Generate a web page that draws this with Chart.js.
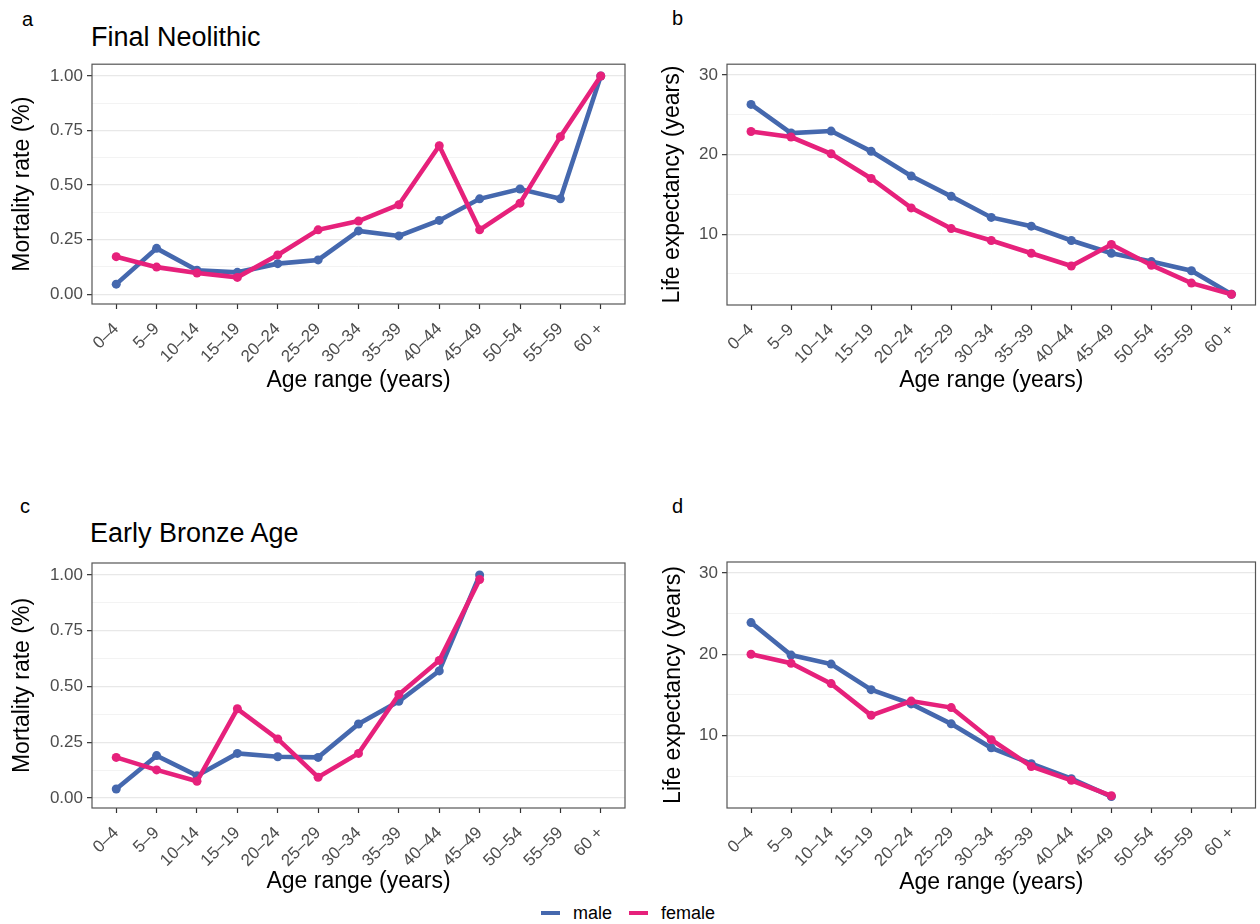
<!DOCTYPE html>
<html>
<head>
<meta charset="utf-8">
<title>Mortality and life expectancy</title>
<script src="https://cdn.jsdelivr.net/npm/chart.js@4.4.0/dist/chart.umd.min.js"></script>
<style>
  body { margin: 0; background: #fff; font-family: "Liberation Sans", Arial, sans-serif; }
  #page { position: relative; width: 1260px; height: 924px; overflow: hidden; background: #fff; }
  canvas { position: absolute; }
  .txt { position: absolute; white-space: nowrap; line-height: 1; color: #000; }
  .letter { font-size: 20px; }
  .ptitle { font-size: 27px; }
  #legend { position: absolute; left: 541px; top: 903px; font-size: 18px; line-height: 20px; z-index: 5; }
  #legend span.sw { display: inline-block; width: 19px; height: 4px; vertical-align: middle; margin-right: 13px; position: relative; top: -1px; }
  #legend span.item { margin-right: 12px; }
</style>
</head>
<body>
<div id="page">
  <div class="txt letter" style="left:22px; top:9px;">a</div>
  <div class="txt letter" style="left:672px; top:8px;">b</div>
  <div class="txt letter" style="left:20px; top:496px;">c</div>
  <div class="txt letter" style="left:672px; top:496px;">d</div>
  <div class="txt ptitle" style="left:91px; top:24px;">Final Neolithic</div>
  <div class="txt ptitle" style="left:90px; top:520px;">Early Bronze Age</div>

  <canvas id="chartA" width="640" height="360" style="left:0px; top:50px;"></canvas>
  <canvas id="chartB" width="630" height="360" style="left:630px; top:50px;"></canvas>
  <canvas id="chartC" width="640" height="360" style="left:0px; top:540px;"></canvas>
  <canvas id="chartD" width="630" height="360" style="left:630px; top:540px;"></canvas>

  <div id="legend">
    <span class="sw" style="background:#4568ae"></span><span class="item">male</span>
    <span class="sw" style="background:#e6217b"></span><span>female</span>
  </div>
</div>

<script>
// age classes on the x axis
const ageGroups = ['0–4', '5–9', '10–14', '15–19', '20–24', '25–29', '30–34',
  '35–39', '40–44', '45–49', '50–54', '55–59', '60 +'];

// a: Final Neolithic, mortality rate
const neoMortMale   = [0.046, 0.21, 0.11, 0.10, 0.14, 0.157, 0.29, 0.267, 0.338, 0.437, 0.482, 0.437, 1.00];
const neoMortFemale = [0.172, 0.124, 0.097, 0.077, 0.18, 0.295, 0.335, 0.41, 0.68, 0.295, 0.417, 0.722, 1.00];

// b: Final Neolithic, life expectancy
const neoLifeMale   = [26.3, 22.7, 22.95, 20.4, 17.3, 14.75, 12.1, 11.0, 9.2, 7.6, 6.55, 5.4, 2.45];
const neoLifeFemale = [22.9, 22.2, 20.1, 17.0, 13.3, 10.7, 9.2, 7.6, 6.0, 8.7, 6.1, 3.85, 2.45];

// c: Early Bronze Age, mortality rate
const ebaMortMale   = [0.04, 0.19, 0.10, 0.20, 0.185, 0.182, 0.332, 0.434, 0.57, 1.00, null, null, null];
const ebaMortFemale = [0.182, 0.126, 0.075, 0.40, 0.265, 0.093, 0.20, 0.464, 0.617, 0.98, null, null, null];

// d: Early Bronze Age, life expectancy
const ebaLifeMale   = [23.9, 19.9, 18.8, 15.65, 13.9, 11.45, 8.5, 6.55, 4.7, 2.5, null, null, null];
const ebaLifeFemale = [20.0, 18.9, 16.4, 12.5, 14.25, 13.45, 9.5, 6.2, 4.5, 2.6, null, null, null];

// y tick labels (major) and minor grid positions
const mortTicks = [0, 0.25, 0.5, 0.75, 1];
const mortMinor = [0.125, 0.375, 0.625, 0.875];
const lifeTicks = [10, 20, 30];
const lifeMinor = [5, 15, 25];

const BLUE = '#4568ae';
const PINK = '#e6217b';

Chart.defaults.font.family = '"Liberation Sans", Arial, sans-serif';
Chart.defaults.animation = false;

// ggplot-like panel frame
const panelBorder = {
  id: 'panelBorder',
  afterDraw(chart) {
    const { ctx, chartArea: a } = chart;
    ctx.save();
    ctx.strokeStyle = '#555555';
    ctx.lineWidth = 1.2;
    ctx.strokeRect(a.left, a.top, a.right - a.left, a.bottom - a.top);
    ctx.restore();
  }
};

function toPoints(vals) {
  return vals.map((v, i) => ({ x: i, y: v }));
}

function makePanel(id, male, female, cfg) {
  const major = cfg.major;
  const allTicks = major.concat(cfg.minor).sort((p, q) => p - q);
  const isMajor = v => major.some(m => Math.abs(m - v) < 1e-9);

  const ds = (label, vals, color, order) => ({
    label: label,
    data: toPoints(vals),
    borderColor: color,
    backgroundColor: color,
    borderWidth: 4.6,
    pointRadius: 4.5,
    pointBorderWidth: 0,
    pointHoverRadius: 4.5,
    tension: 0,
    spanGaps: false,
    order: order
  });

  new Chart(document.getElementById(id), {
    type: 'line',
    data: {
      datasets: [
        ds('male', male, BLUE, 1),
        ds('female', female, PINK, 0)
      ]
    },
    options: {
      responsive: false,
      layout: { padding: { left: 0, top: cfg.padTop, right: cfg.padRight, bottom: 0 } },
      plugins: { legend: { display: false }, tooltip: { enabled: false } },
      scales: {
        x: {
          type: 'linear',
          min: -0.6,
          max: 12.6,
          afterBuildTicks: s => { s.ticks = ageGroups.map((_, i) => ({ value: i })); },
          afterFit: s => { s.height = cfg.xHeight; },
          grid: { drawOnChartArea: false, tickLength: 5, tickColor: '#333333', tickWidth: 1.2 },
          border: { display: false },
          ticks: {
            autoSkip: false,
            minRotation: 45,
            maxRotation: 45,
            padding: 10,
            color: '#4d4d4d',
            font: { size: 17 },
            callback: v => ageGroups[v]
          },
          title: {
            display: true,
            text: 'Age range (years)',
            color: '#000',
            font: { size: 23 },
            padding: { top: 0, bottom: cfg.xTitlePad }
          }
        },
        y: {
          min: cfg.min,
          max: cfg.max,
          afterBuildTicks: s => { s.ticks = allTicks.map(v => ({ value: v })); },
          afterFit: s => { s.width = cfg.yWidth; },
          grid: {
            color: c => isMajor(c.tick.value) ? '#e8e8e8' : '#f3f3f3',
            lineWidth: c => isMajor(c.tick.value) ? 1.3 : 1,
            tickLength: 5,
            tickColor: c => isMajor(c.tick.value) ? '#333333' : 'rgba(0,0,0,0)',
            tickWidth: 1.2
          },
          border: { display: false },
          ticks: {
            padding: 4,
            color: '#4d4d4d',
            font: { size: 17 },
            callback: v => isMajor(v) ? cfg.fmt(v) : ''
          },
          title: {
            display: true,
            text: cfg.yTitle,
            color: '#000',
            font: { size: 23 },
            padding: { top: cfg.yTitlePad, bottom: 0 }
          }
        }
      }
    },
    plugins: [panelBorder]
  });
}

const mortCfg = {
  major: mortTicks, minor: mortMinor, min: -0.045, max: 1.054,
  fmt: v => v.toFixed(2), yTitle: 'Mortality rate (%)', yWidth: 92, yTitlePad: 9, padRight: 15
};
const lifeCfg = {
  major: lifeTicks, minor: lifeMinor, min: 1.1, max: 31.35,
  fmt: v => String(v), yTitle: 'Life expectancy (years)', yWidth: 97, padRight: 2
};

makePanel('chartA', neoMortMale, neoMortFemale,
  Object.assign({}, mortCfg, { padTop: 10, xHeight: 106, xTitlePad: 16 }));
makePanel('chartB', neoLifeMale, neoLifeFemale,
  Object.assign({}, lifeCfg, { padTop: 9, xHeight: 105, xTitlePad: 16, yTitlePad: 29 }));
makePanel('chartC', ebaMortMale, ebaMortFemale,
  Object.assign({}, mortCfg, { padTop: 23, xHeight: 92, xTitlePad: 5 }));
makePanel('chartD', ebaLifeMale, ebaLifeFemale,
  Object.assign({}, lifeCfg, { padTop: 22, xHeight: 92, xTitlePad: 4, yTitlePad: 30 }));
</script>
</body>
</html>
